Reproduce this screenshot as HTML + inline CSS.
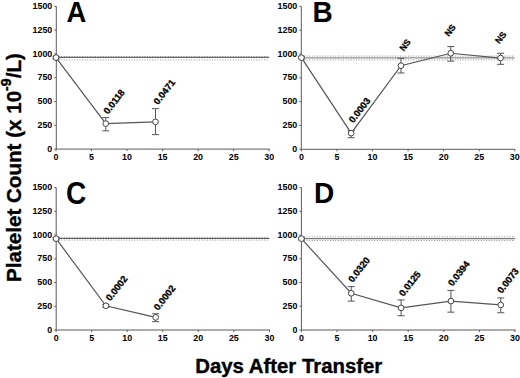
<!DOCTYPE html>
<html><head><meta charset="utf-8"><style>
html,body{margin:0;padding:0;background:#fff;}
body{width:520px;height:378px;overflow:hidden;}
svg{display:block;}
text{font-family:"Liberation Sans",sans-serif;fill:#000;}
.tk{font-size:8.9px;font-weight:bold;}
.an{font-size:9.4px;font-weight:bold;stroke:#000;stroke-width:0.3px;}
.ns{font-size:8.8px;}
.lt{font-size:29.5px;font-weight:bold;}
.xl{font-size:19.6px;font-weight:bold;stroke:#000;stroke-width:0.35px;}
.yl{font-size:20.6px;font-weight:bold;stroke:#000;stroke-width:0.35px;}
</style></head><body>
<svg width="520" height="378" viewBox="0 0 520 378">
<rect width="520" height="378" fill="#fff"/>
<line x1="56.00" y1="56.60" x2="269.20" y2="56.60" stroke="#777" stroke-width="0.8" stroke-dasharray="1 1.6"/>
<line x1="56.00" y1="59.90" x2="269.20" y2="59.90" stroke="#777" stroke-width="0.8" stroke-dasharray="1 1.6"/>
<line x1="56.00" y1="57.30" x2="269.20" y2="57.30" stroke="#444" stroke-width="1"/>
<path d="M56.30,6.40V149.10H269.70" fill="none" stroke="#5a5a5a" stroke-width="1"/>
<line x1="54.40" y1="149.10" x2="56.30" y2="149.10" stroke="#5a5a5a" stroke-width="1"/>
<text transform="translate(52.30,151.70) scale(1,1.1)" class="tk" text-anchor="end">0</text>
<line x1="54.40" y1="125.32" x2="56.30" y2="125.32" stroke="#5a5a5a" stroke-width="1"/>
<text transform="translate(52.30,127.92) scale(1,1.1)" class="tk" text-anchor="end">250</text>
<line x1="54.40" y1="101.53" x2="56.30" y2="101.53" stroke="#5a5a5a" stroke-width="1"/>
<text transform="translate(52.30,104.13) scale(1,1.1)" class="tk" text-anchor="end">500</text>
<line x1="54.40" y1="77.75" x2="56.30" y2="77.75" stroke="#5a5a5a" stroke-width="1"/>
<text transform="translate(52.30,80.35) scale(1,1.1)" class="tk" text-anchor="end">750</text>
<line x1="54.40" y1="53.97" x2="56.30" y2="53.97" stroke="#5a5a5a" stroke-width="1"/>
<text transform="translate(52.30,56.57) scale(1,1.1)" class="tk" text-anchor="end">1000</text>
<line x1="54.40" y1="30.18" x2="56.30" y2="30.18" stroke="#5a5a5a" stroke-width="1"/>
<text transform="translate(52.30,32.78) scale(1,1.1)" class="tk" text-anchor="end">1250</text>
<line x1="54.40" y1="6.40" x2="56.30" y2="6.40" stroke="#5a5a5a" stroke-width="1"/>
<text transform="translate(52.30,9.00) scale(1,1.1)" class="tk" text-anchor="end">1500</text>
<line x1="56.00" y1="149.10" x2="56.00" y2="151.10" stroke="#5a5a5a" stroke-width="1"/>
<text transform="translate(56.00,160.20) scale(1,1.1)" class="tk" text-anchor="middle">0</text>
<line x1="91.53" y1="149.10" x2="91.53" y2="151.10" stroke="#5a5a5a" stroke-width="1"/>
<text transform="translate(91.53,160.20) scale(1,1.1)" class="tk" text-anchor="middle">5</text>
<line x1="127.07" y1="149.10" x2="127.07" y2="151.10" stroke="#5a5a5a" stroke-width="1"/>
<text transform="translate(127.07,160.20) scale(1,1.1)" class="tk" text-anchor="middle">10</text>
<line x1="162.60" y1="149.10" x2="162.60" y2="151.10" stroke="#5a5a5a" stroke-width="1"/>
<text transform="translate(162.60,160.20) scale(1,1.1)" class="tk" text-anchor="middle">15</text>
<line x1="198.13" y1="149.10" x2="198.13" y2="151.10" stroke="#5a5a5a" stroke-width="1"/>
<text transform="translate(198.13,160.20) scale(1,1.1)" class="tk" text-anchor="middle">20</text>
<line x1="233.67" y1="149.10" x2="233.67" y2="151.10" stroke="#5a5a5a" stroke-width="1"/>
<text transform="translate(233.67,160.20) scale(1,1.1)" class="tk" text-anchor="middle">25</text>
<line x1="269.20" y1="149.10" x2="269.20" y2="151.10" stroke="#5a5a5a" stroke-width="1"/>
<text transform="translate(269.20,160.20) scale(1,1.1)" class="tk" text-anchor="middle">30</text>
<polyline points="56.00,57.58 105.75,123.60 155.49,121.89" fill="none" stroke="#555" stroke-width="1.2"/>
<path d="M56.00,58.72V56.34M52.50,58.72H59.50M52.50,56.34H59.50" stroke="#555" stroke-width="1" fill="none"/>
<path d="M105.75,130.83V117.61M102.25,130.83H109.25M102.25,117.61H109.25" stroke="#555" stroke-width="1" fill="none"/>
<path d="M155.49,134.64V108.67M151.99,134.64H158.99M151.99,108.67H158.99" stroke="#555" stroke-width="1" fill="none"/>
<circle cx="56.00" cy="57.58" r="2.85" fill="#fff" stroke="#444" stroke-width="1"/>
<circle cx="105.75" cy="123.60" r="2.85" fill="#fff" stroke="#444" stroke-width="1"/>
<circle cx="155.49" cy="121.89" r="2.85" fill="#fff" stroke="#444" stroke-width="1"/>
<text transform="translate(107.95,114.80) rotate(-52)" class="an">0.0118</text>
<text transform="translate(158.00,105.20) rotate(-52)" class="an">0.0471</text>
<text transform="translate(66.6,21.8) scale(0.93,1.0)" class="lt">A</text>
<line x1="301.40" y1="56.10" x2="514.80" y2="56.10" stroke="#777" stroke-width="0.8" stroke-dasharray="1 1.6"/>
<line x1="301.40" y1="59.90" x2="514.80" y2="59.90" stroke="#777" stroke-width="0.8" stroke-dasharray="1 1.6"/>
<line x1="301.40" y1="57.90" x2="514.80" y2="57.90" stroke="#777" stroke-width="1"/>
<path d="M301.30,6.40V149.30H515.30" fill="none" stroke="#5a5a5a" stroke-width="1"/>
<line x1="299.40" y1="149.30" x2="301.30" y2="149.30" stroke="#5a5a5a" stroke-width="1"/>
<text transform="translate(297.30,151.90) scale(1,1.1)" class="tk" text-anchor="end">0</text>
<line x1="299.40" y1="125.48" x2="301.30" y2="125.48" stroke="#5a5a5a" stroke-width="1"/>
<text transform="translate(297.30,128.08) scale(1,1.1)" class="tk" text-anchor="end">250</text>
<line x1="299.40" y1="101.67" x2="301.30" y2="101.67" stroke="#5a5a5a" stroke-width="1"/>
<text transform="translate(297.30,104.27) scale(1,1.1)" class="tk" text-anchor="end">500</text>
<line x1="299.40" y1="77.85" x2="301.30" y2="77.85" stroke="#5a5a5a" stroke-width="1"/>
<text transform="translate(297.30,80.45) scale(1,1.1)" class="tk" text-anchor="end">750</text>
<line x1="299.40" y1="54.03" x2="301.30" y2="54.03" stroke="#5a5a5a" stroke-width="1"/>
<text transform="translate(297.30,56.63) scale(1,1.1)" class="tk" text-anchor="end">1000</text>
<line x1="299.40" y1="30.22" x2="301.30" y2="30.22" stroke="#5a5a5a" stroke-width="1"/>
<text transform="translate(297.30,32.82) scale(1,1.1)" class="tk" text-anchor="end">1250</text>
<line x1="299.40" y1="6.40" x2="301.30" y2="6.40" stroke="#5a5a5a" stroke-width="1"/>
<text transform="translate(297.30,9.00) scale(1,1.1)" class="tk" text-anchor="end">1500</text>
<line x1="301.40" y1="149.30" x2="301.40" y2="151.30" stroke="#5a5a5a" stroke-width="1"/>
<text transform="translate(301.40,160.40) scale(1,1.1)" class="tk" text-anchor="middle">0</text>
<line x1="336.97" y1="149.30" x2="336.97" y2="151.30" stroke="#5a5a5a" stroke-width="1"/>
<text transform="translate(336.97,160.40) scale(1,1.1)" class="tk" text-anchor="middle">5</text>
<line x1="372.53" y1="149.30" x2="372.53" y2="151.30" stroke="#5a5a5a" stroke-width="1"/>
<text transform="translate(372.53,160.40) scale(1,1.1)" class="tk" text-anchor="middle">10</text>
<line x1="408.10" y1="149.30" x2="408.10" y2="151.30" stroke="#5a5a5a" stroke-width="1"/>
<text transform="translate(408.10,160.40) scale(1,1.1)" class="tk" text-anchor="middle">15</text>
<line x1="443.67" y1="149.30" x2="443.67" y2="151.30" stroke="#5a5a5a" stroke-width="1"/>
<text transform="translate(443.67,160.40) scale(1,1.1)" class="tk" text-anchor="middle">20</text>
<line x1="479.23" y1="149.30" x2="479.23" y2="151.30" stroke="#5a5a5a" stroke-width="1"/>
<text transform="translate(479.23,160.40) scale(1,1.1)" class="tk" text-anchor="middle">25</text>
<line x1="514.80" y1="149.30" x2="514.80" y2="151.30" stroke="#5a5a5a" stroke-width="1"/>
<text transform="translate(514.80,160.40) scale(1,1.1)" class="tk" text-anchor="middle">30</text>
<polyline points="301.40,57.65 351.19,133.10 400.99,65.66 450.78,53.27 500.57,58.03" fill="none" stroke="#555" stroke-width="1.2"/>
<path d="M301.40,58.80V56.42M297.90,58.80H304.90M297.90,56.42H304.90" stroke="#555" stroke-width="1" fill="none"/>
<path d="M351.19,137.68V130.72M347.69,137.68H354.69M347.69,130.72H354.69" stroke="#555" stroke-width="1" fill="none"/>
<path d="M400.99,72.99V58.32M397.49,72.99H404.49M397.49,58.32H404.49" stroke="#555" stroke-width="1" fill="none"/>
<path d="M450.78,61.18V46.60M447.28,61.18H454.28M447.28,46.60H454.28" stroke="#555" stroke-width="1" fill="none"/>
<path d="M500.57,64.32V53.27M497.07,64.32H504.07M497.07,53.27H504.07" stroke="#555" stroke-width="1" fill="none"/>
<circle cx="301.40" cy="57.65" r="2.85" fill="#fff" stroke="#444" stroke-width="1"/>
<circle cx="351.19" cy="133.10" r="2.85" fill="#fff" stroke="#444" stroke-width="1"/>
<circle cx="400.99" cy="65.66" r="2.85" fill="#fff" stroke="#444" stroke-width="1"/>
<circle cx="450.78" cy="53.27" r="2.85" fill="#fff" stroke="#444" stroke-width="1"/>
<circle cx="500.57" cy="58.03" r="2.85" fill="#fff" stroke="#444" stroke-width="1"/>
<text transform="translate(353.20,123.60) rotate(-52)" class="an">0.0003</text>
<text transform="translate(403.65,51.74) rotate(-52)" class="an ns">NS</text>
<text transform="translate(448.65,37.04) rotate(-52)" class="an ns">NS</text>
<text transform="translate(499.30,44.19) rotate(-52)" class="an ns">NS</text>
<text transform="translate(312.5,21.6) scale(0.95,1.0)" class="lt">B</text>
<line x1="56.10" y1="237.30" x2="269.40" y2="237.30" stroke="#777" stroke-width="0.8" stroke-dasharray="1 1.6"/>
<line x1="56.10" y1="240.10" x2="269.40" y2="240.10" stroke="#777" stroke-width="0.8" stroke-dasharray="1 1.6"/>
<line x1="56.10" y1="238.40" x2="269.40" y2="238.40" stroke="#4a4a4a" stroke-width="1"/>
<path d="M56.20,187.60V330.00H269.90" fill="none" stroke="#5a5a5a" stroke-width="1"/>
<line x1="54.30" y1="330.00" x2="56.20" y2="330.00" stroke="#5a5a5a" stroke-width="1"/>
<text transform="translate(52.20,332.60) scale(1,1.1)" class="tk" text-anchor="end">0</text>
<line x1="54.30" y1="306.27" x2="56.20" y2="306.27" stroke="#5a5a5a" stroke-width="1"/>
<text transform="translate(52.20,308.87) scale(1,1.1)" class="tk" text-anchor="end">250</text>
<line x1="54.30" y1="282.53" x2="56.20" y2="282.53" stroke="#5a5a5a" stroke-width="1"/>
<text transform="translate(52.20,285.13) scale(1,1.1)" class="tk" text-anchor="end">500</text>
<line x1="54.30" y1="258.80" x2="56.20" y2="258.80" stroke="#5a5a5a" stroke-width="1"/>
<text transform="translate(52.20,261.40) scale(1,1.1)" class="tk" text-anchor="end">750</text>
<line x1="54.30" y1="235.07" x2="56.20" y2="235.07" stroke="#5a5a5a" stroke-width="1"/>
<text transform="translate(52.20,237.67) scale(1,1.1)" class="tk" text-anchor="end">1000</text>
<line x1="54.30" y1="211.33" x2="56.20" y2="211.33" stroke="#5a5a5a" stroke-width="1"/>
<text transform="translate(52.20,213.93) scale(1,1.1)" class="tk" text-anchor="end">1250</text>
<line x1="54.30" y1="187.60" x2="56.20" y2="187.60" stroke="#5a5a5a" stroke-width="1"/>
<text transform="translate(52.20,190.20) scale(1,1.1)" class="tk" text-anchor="end">1500</text>
<line x1="56.10" y1="330.00" x2="56.10" y2="332.00" stroke="#5a5a5a" stroke-width="1"/>
<text transform="translate(56.10,341.10) scale(1,1.1)" class="tk" text-anchor="middle">0</text>
<line x1="91.65" y1="330.00" x2="91.65" y2="332.00" stroke="#5a5a5a" stroke-width="1"/>
<text transform="translate(91.65,341.10) scale(1,1.1)" class="tk" text-anchor="middle">5</text>
<line x1="127.20" y1="330.00" x2="127.20" y2="332.00" stroke="#5a5a5a" stroke-width="1"/>
<text transform="translate(127.20,341.10) scale(1,1.1)" class="tk" text-anchor="middle">10</text>
<line x1="162.75" y1="330.00" x2="162.75" y2="332.00" stroke="#5a5a5a" stroke-width="1"/>
<text transform="translate(162.75,341.10) scale(1,1.1)" class="tk" text-anchor="middle">15</text>
<line x1="198.30" y1="330.00" x2="198.30" y2="332.00" stroke="#5a5a5a" stroke-width="1"/>
<text transform="translate(198.30,341.10) scale(1,1.1)" class="tk" text-anchor="middle">20</text>
<line x1="233.85" y1="330.00" x2="233.85" y2="332.00" stroke="#5a5a5a" stroke-width="1"/>
<text transform="translate(233.85,341.10) scale(1,1.1)" class="tk" text-anchor="middle">25</text>
<line x1="269.40" y1="330.00" x2="269.40" y2="332.00" stroke="#5a5a5a" stroke-width="1"/>
<text transform="translate(269.40,341.10) scale(1,1.1)" class="tk" text-anchor="middle">30</text>
<polyline points="56.10,238.67 105.87,305.79 155.64,317.37" fill="none" stroke="#555" stroke-width="1.2"/>
<path d="M56.10,239.81V237.44M52.60,239.81H59.60M52.60,237.44H59.60" stroke="#555" stroke-width="1" fill="none"/>
<path d="M105.87,307.22V304.37M102.37,307.22H109.37M102.37,304.37H109.37" stroke="#555" stroke-width="1" fill="none"/>
<path d="M155.64,321.65V313.77M152.14,321.65H159.14M152.14,313.77H159.14" stroke="#555" stroke-width="1" fill="none"/>
<circle cx="56.10" cy="238.67" r="2.85" fill="#fff" stroke="#444" stroke-width="1"/>
<circle cx="105.87" cy="305.79" r="2.85" fill="#fff" stroke="#444" stroke-width="1"/>
<circle cx="155.64" cy="317.37" r="2.85" fill="#fff" stroke="#444" stroke-width="1"/>
<text transform="translate(110.35,301.60) rotate(-52)" class="an">0.0002</text>
<text transform="translate(158.20,311.10) rotate(-52)" class="an">0.0002</text>
<text transform="translate(65.9,203.8) scale(0.95,1.05)" class="lt">C</text>
<line x1="301.40" y1="236.80" x2="515.00" y2="236.80" stroke="#777" stroke-width="0.8" stroke-dasharray="1 1.6"/>
<line x1="301.40" y1="240.50" x2="515.00" y2="240.50" stroke="#777" stroke-width="0.8" stroke-dasharray="1 1.6"/>
<line x1="301.40" y1="238.70" x2="515.00" y2="238.70" stroke="#555" stroke-width="1"/>
<path d="M301.40,187.60V330.00H515.50" fill="none" stroke="#5a5a5a" stroke-width="1"/>
<line x1="299.50" y1="330.00" x2="301.40" y2="330.00" stroke="#5a5a5a" stroke-width="1"/>
<text transform="translate(297.40,332.60) scale(1,1.1)" class="tk" text-anchor="end">0</text>
<line x1="299.50" y1="306.27" x2="301.40" y2="306.27" stroke="#5a5a5a" stroke-width="1"/>
<text transform="translate(297.40,308.87) scale(1,1.1)" class="tk" text-anchor="end">250</text>
<line x1="299.50" y1="282.53" x2="301.40" y2="282.53" stroke="#5a5a5a" stroke-width="1"/>
<text transform="translate(297.40,285.13) scale(1,1.1)" class="tk" text-anchor="end">500</text>
<line x1="299.50" y1="258.80" x2="301.40" y2="258.80" stroke="#5a5a5a" stroke-width="1"/>
<text transform="translate(297.40,261.40) scale(1,1.1)" class="tk" text-anchor="end">750</text>
<line x1="299.50" y1="235.07" x2="301.40" y2="235.07" stroke="#5a5a5a" stroke-width="1"/>
<text transform="translate(297.40,237.67) scale(1,1.1)" class="tk" text-anchor="end">1000</text>
<line x1="299.50" y1="211.33" x2="301.40" y2="211.33" stroke="#5a5a5a" stroke-width="1"/>
<text transform="translate(297.40,213.93) scale(1,1.1)" class="tk" text-anchor="end">1250</text>
<line x1="299.50" y1="187.60" x2="301.40" y2="187.60" stroke="#5a5a5a" stroke-width="1"/>
<text transform="translate(297.40,190.20) scale(1,1.1)" class="tk" text-anchor="end">1500</text>
<line x1="301.40" y1="330.00" x2="301.40" y2="332.00" stroke="#5a5a5a" stroke-width="1"/>
<text transform="translate(301.40,341.10) scale(1,1.1)" class="tk" text-anchor="middle">0</text>
<line x1="337.00" y1="330.00" x2="337.00" y2="332.00" stroke="#5a5a5a" stroke-width="1"/>
<text transform="translate(337.00,341.10) scale(1,1.1)" class="tk" text-anchor="middle">5</text>
<line x1="372.60" y1="330.00" x2="372.60" y2="332.00" stroke="#5a5a5a" stroke-width="1"/>
<text transform="translate(372.60,341.10) scale(1,1.1)" class="tk" text-anchor="middle">10</text>
<line x1="408.20" y1="330.00" x2="408.20" y2="332.00" stroke="#5a5a5a" stroke-width="1"/>
<text transform="translate(408.20,341.10) scale(1,1.1)" class="tk" text-anchor="middle">15</text>
<line x1="443.80" y1="330.00" x2="443.80" y2="332.00" stroke="#5a5a5a" stroke-width="1"/>
<text transform="translate(443.80,341.10) scale(1,1.1)" class="tk" text-anchor="middle">20</text>
<line x1="479.40" y1="330.00" x2="479.40" y2="332.00" stroke="#5a5a5a" stroke-width="1"/>
<text transform="translate(479.40,341.10) scale(1,1.1)" class="tk" text-anchor="middle">25</text>
<line x1="515.00" y1="330.00" x2="515.00" y2="332.00" stroke="#5a5a5a" stroke-width="1"/>
<text transform="translate(515.00,341.10) scale(1,1.1)" class="tk" text-anchor="middle">30</text>
<polyline points="301.40,238.67 351.24,293.26 401.08,307.88 450.92,301.05 500.76,304.94" fill="none" stroke="#555" stroke-width="1.2"/>
<path d="M301.40,239.81V237.44M297.90,239.81H304.90M297.90,237.44H304.90" stroke="#555" stroke-width="1" fill="none"/>
<path d="M351.24,301.14V286.62M347.74,301.14H354.74M347.74,286.62H354.74" stroke="#555" stroke-width="1" fill="none"/>
<path d="M401.08,315.76V299.91M397.58,315.76H404.58M397.58,299.91H404.58" stroke="#555" stroke-width="1" fill="none"/>
<path d="M450.92,312.15V290.41M447.42,312.15H454.42M447.42,290.41H454.42" stroke="#555" stroke-width="1" fill="none"/>
<path d="M500.76,312.72V297.91M497.26,312.72H504.26M497.26,297.91H504.26" stroke="#555" stroke-width="1" fill="none"/>
<circle cx="301.40" cy="238.67" r="2.85" fill="#fff" stroke="#444" stroke-width="1"/>
<circle cx="351.24" cy="293.26" r="2.85" fill="#fff" stroke="#444" stroke-width="1"/>
<circle cx="401.08" cy="307.88" r="2.85" fill="#fff" stroke="#444" stroke-width="1"/>
<circle cx="450.92" cy="301.05" r="2.85" fill="#fff" stroke="#444" stroke-width="1"/>
<circle cx="500.76" cy="304.94" r="2.85" fill="#fff" stroke="#444" stroke-width="1"/>
<text transform="translate(352.75,283.00) rotate(-52)" class="an">0.0320</text>
<text transform="translate(403.50,297.00) rotate(-52)" class="an">0.0125</text>
<text transform="translate(452.50,286.85) rotate(-52)" class="an">0.0394</text>
<text transform="translate(501.65,294.00) rotate(-52)" class="an">0.0073</text>
<text transform="translate(314.1,202.5) scale(0.95,1.0)" class="lt">D</text>
<text x="195.2" y="372.7" class="xl" textLength="187.1" lengthAdjust="spacingAndGlyphs">Days After Transfer</text>
<text transform="translate(20.9,282.0) rotate(-90)" class="yl">Platelet Count (x 10<tspan dy="-9.5" font-size="14.2">-9</tspan><tspan dy="9.5">/L)</tspan></text>
</svg>
</body></html>
